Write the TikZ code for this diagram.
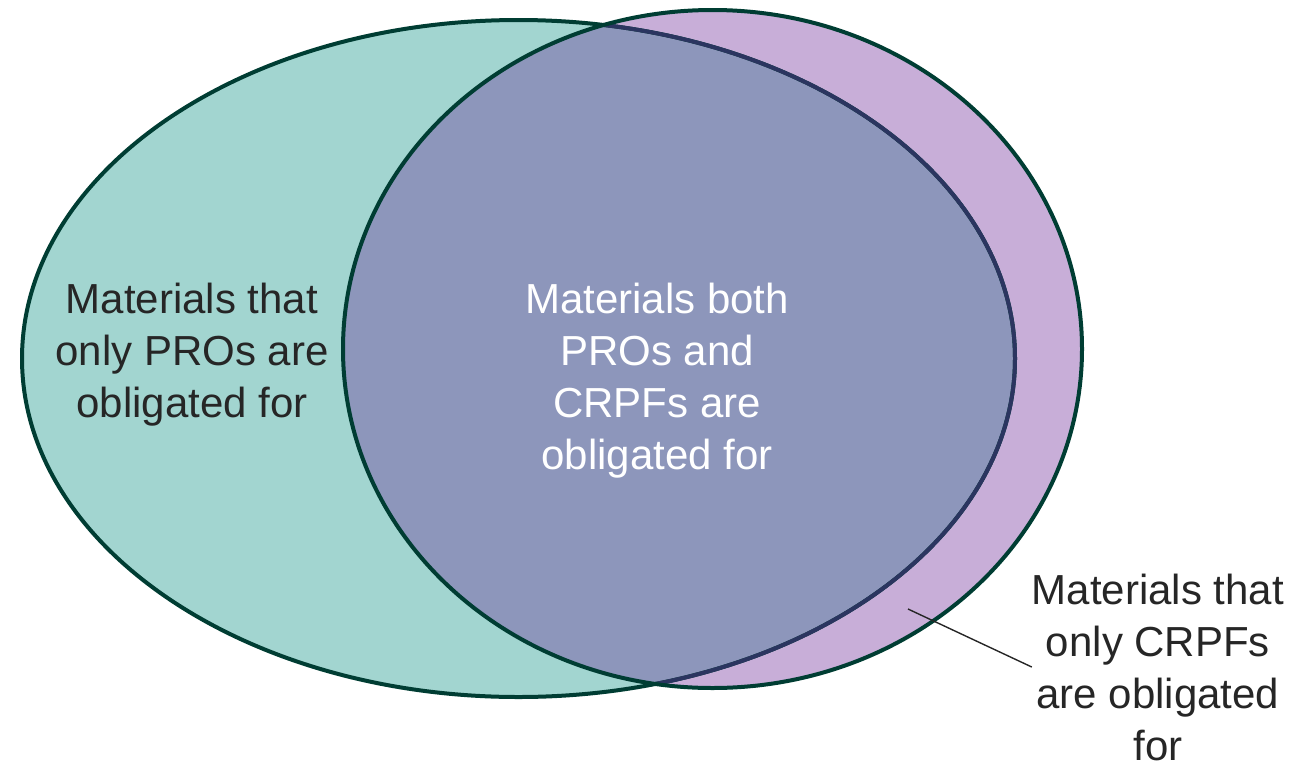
\documentclass[tikz,border=0pt]{standalone}
\usepackage{fontspec}
\setmainfont{Liberation Sans}
\definecolor{proFill}{HTML}{A2D5D0}
\definecolor{crpfFill}{HTML}{C8AED8}
\definecolor{bothFill}{HTML}{8D96BB}
\definecolor{rim}{HTML}{003D33}
\definecolor{innerRim}{HTML}{2B3560}
\definecolor{labelInk}{HTML}{262626}
\tikzset{
  setrim/.style={line width=4pt},
  setlabel/.style={align=center, inner sep=0pt, font=\fontsize{42}{52}\selectfont},
  leader/.style={line width=1.4pt, draw=labelInk}
}
\newcommand{\proSet}{(518.5,358.5) ellipse [x radius=496.5, y radius=338.5]}
\newcommand{\crpfSet}{(712.5,349) ellipse [x radius=369.5, y radius=339]}
\begin{document}
\begin{tikzpicture}[x=1pt,y=-1pt]
\useasboundingbox (0,0) rectangle (1312,761);
% set areas
\fill[proFill] \proSet;
\fill[crpfFill] \crpfSet;
\begin{scope}
  \clip \proSet;
  \fill[bothFill] \crpfSet;
\end{scope}
% outlines
\draw[setrim, rim] \proSet;
\begin{scope}
  \clip \crpfSet;
  \draw[setrim, innerRim] \proSet;
\end{scope}
\draw[setrim, rim] \crpfSet;
% labels
\node[setlabel, text=labelInk] (proOnly) at (192,355)
  {Materials that\\only PROs are\\obligated for};
\node[setlabel, text=white] (both) at (657,381)
  {Materials both\\PROs and\\CRPFs are\\obligated for};
\node[setlabel, text=labelInk] (crpfOnly) at (1158,667)
  {Materials that\\only CRPFs\\are obligated\\for};
\coordinate (crpfPoint) at (908,609);
\draw[leader] (crpfPoint) -- (crpfOnly.west);
\end{tikzpicture}
\end{document}
